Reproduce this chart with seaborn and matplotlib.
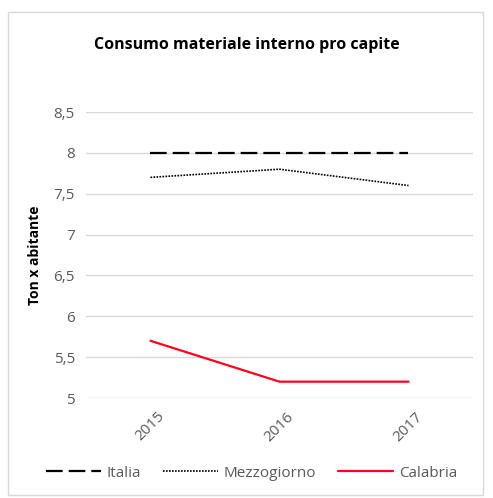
import pandas as pd
import matplotlib.pyplot as plt
import seaborn as sns
from matplotlib.patches import Rectangle

# Values
years = ['2015', '2016', '2017']
italia = [8.0, 8.0, 8.0]
mezzogiorno = [7.7, 7.8, 7.6]
calabria = [5.7, 5.2, 5.2]

df = pd.DataFrame({'pos': [0, 1, 2] * 3,
                   'valore': italia + mezzogiorno + calabria,
                   'serie': ['Italia'] * 3 + ['Mezzogiorno'] * 3 + ['Calabria'] * 3})

sns.set_style('white')
plt.rcParams['font.family'] = ['Open Sans', 'DejaVu Sans']

fig = plt.figure(figsize=(4.93, 4.98), dpi=100)
ax = fig.add_axes([0.1744, 0.2008, 0.785, 0.5743])

# outer chart border
fig.patches.append(Rectangle((8 / 493, 3 / 498), 475 / 493, 483 / 498, transform=fig.transFigure,
                             fill=False, edgecolor='#d9d9d9', linewidth=1))

styles = {'Italia': dict(color='black', linestyle=(0, (7.5, 2.7)), linewidth=1.6),
          'Mezzogiorno': dict(color='black', linestyle=(0, (1, 0.8)), linewidth=1.2),
          'Calabria': dict(color='#ff0022', linestyle='-', linewidth=1.6)}

for name in ['Italia', 'Mezzogiorno', 'Calabria']:
    sns.lineplot(data=df[df['serie'] == name], x='pos', y='valore', ax=ax,
                 label=name, **styles[name])

ax.set_xlim(-0.5, 2.5)
ax.set_ylim(5, 8.5)
ax.set_yticks([5, 5.5, 6, 6.5, 7, 7.5, 8, 8.5])
ax.set_yticklabels(['5', '5,5', '6', '6,5', '7', '7,5', '8', '8,5'])
ax.set_xticks([0, 1, 2])
ax.set_xticklabels(years, rotation=45)
ax.tick_params(axis='both', colors='#595959', labelsize=11, length=0, pad=8)
ax.grid(axis='y', color='#d9d9d9', linewidth=1)
ax.set_axisbelow(True)
for s in ax.spines.values():
    s.set_visible(False)

ax.set_xlabel('')
ax.set_ylabel('Ton x abitante', fontsize=10, fontweight='bold', color='black', labelpad=8)
fig.text(0.5, 1 - 45 / 498, 'Consumo materiale interno pro capite', fontsize=11.5,
         fontweight='bold', color='black', ha='center', va='center')

ax.get_legend().remove()
handles, labels = ax.get_legend_handles_labels()
fig.legend(handles, labels, loc='center', bbox_to_anchor=(0.51, 0.05), ncol=3, frameon=False,
           fontsize=11, labelcolor='#595959', handlelength=3.6, columnspacing=1.4, handletextpad=0.4)

fig.savefig('out.png', dpi=100)
